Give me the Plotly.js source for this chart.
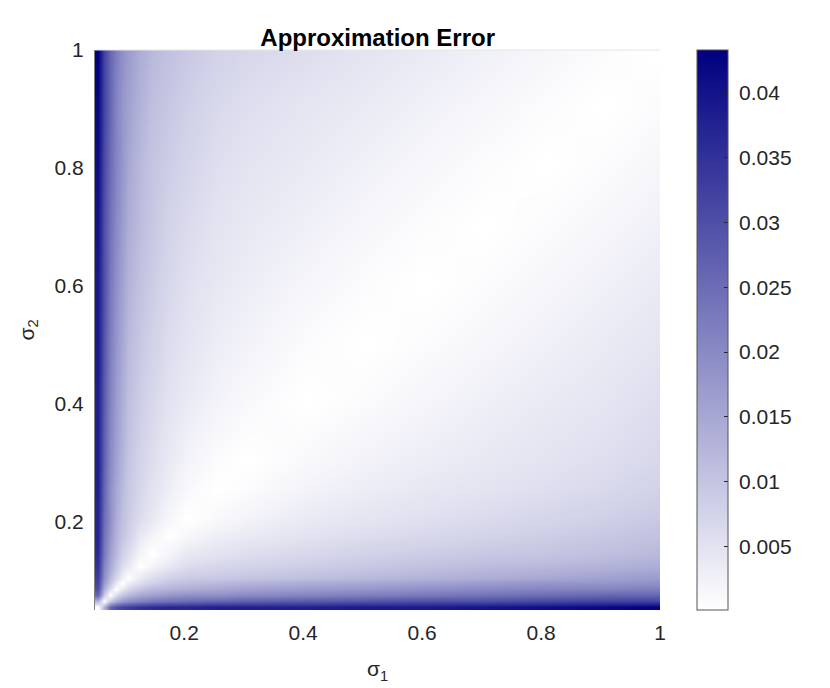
<!DOCTYPE html>
<html>
<head>
<meta charset="utf-8">
<script src="https://cdn.plot.ly/plotly-3.0.1.min.js"></script>
<style>
  html, body { margin: 0; padding: 0; background: #ffffff; }
  #chart { width: 830px; height: 688px; }
</style>
</head>
<body>
<div id="chart"></div>
<script>
const sigma1 = [0.055, 0.065, 0.075, 0.085, 0.095, 0.105, 0.125, 0.145, 0.175, 0.205,
                0.255, 0.305, 0.405, 0.505, 0.605, 0.705, 0.805, 0.905, 0.995];
const sigma2 = [0.055, 0.065, 0.075, 0.085, 0.095, 0.105, 0.125, 0.145, 0.175, 0.205,
                0.255, 0.305, 0.405, 0.505, 0.605, 0.705, 0.805, 0.905, 0.995];

// Approximation error, one row per sigma2 sample (bottom to top)
const errorGrid = [
  [0, 0.013, 0.026, 0.030, 0.032, 0.033, 0.035, 0.036, 0.037, 0.037, 0.038, 0.038, 0.038, 0.039, 0.039, 0.040, 0.041, 0.042, 0.043],
  [0.013, 0, 0.009, 0.014, 0.017, 0.019, 0.021, 0.023, 0.024, 0.025, 0.026, 0.027, 0.028, 0.029, 0.030, 0.030, 0.031, 0.032, 0.032],
  [0.026, 0.009, 0, 0.006, 0.010, 0.012, 0.015, 0.016, 0.018, 0.019, 0.019, 0.020, 0.021, 0.022, 0.023, 0.024, 0.025, 0.026, 0.026],
  [0.030, 0.014, 0.006, 0, 0.004, 0.007, 0.010, 0.012, 0.013, 0.014, 0.015, 0.016, 0.017, 0.018, 0.019, 0.020, 0.021, 0.021, 0.022],
  [0.032, 0.017, 0.010, 0.004, 0, 0.003, 0.006, 0.008, 0.010, 0.011, 0.012, 0.013, 0.014, 0.015, 0.016, 0.017, 0.018, 0.018, 0.019],
  [0.033, 0.019, 0.012, 0.007, 0.003, 0, 0.004, 0.006, 0.008, 0.009, 0.0095, 0.010, 0.011, 0.012, 0.013, 0.014, 0.015, 0.016, 0.017],
  [0.035, 0.021, 0.015, 0.010, 0.006, 0.004, 0, 0.002, 0.004, 0.006, 0.007, 0.0075, 0.0085, 0.0095, 0.0105, 0.0115, 0.012, 0.013, 0.014],
  [0.036, 0.023, 0.016, 0.012, 0.008, 0.006, 0.002, 0, 0.002, 0.004, 0.005, 0.0058, 0.0068, 0.0078, 0.0087, 0.0095, 0.010, 0.011, 0.012],
  [0.037, 0.024, 0.018, 0.013, 0.010, 0.008, 0.004, 0.002, 0, 0.0015, 0.003, 0.0038, 0.005, 0.006, 0.0068, 0.0076, 0.0085, 0.0095, 0.0105],
  [0.037, 0.025, 0.019, 0.014, 0.011, 0.009, 0.006, 0.004, 0.0015, 0, 0.0012, 0.0022, 0.0037, 0.0047, 0.0055, 0.0063, 0.0072, 0.0082, 0.0093],
  [0.038, 0.026, 0.019, 0.015, 0.012, 0.0095, 0.007, 0.005, 0.003, 0.0012, 0, 0.0007, 0.0022, 0.0032, 0.0041, 0.0049, 0.0057, 0.0066, 0.0078],
  [0.038, 0.027, 0.020, 0.016, 0.013, 0.010, 0.0075, 0.0058, 0.0038, 0.0022, 0.0007, 0, 0.0012, 0.0023, 0.0032, 0.004, 0.0048, 0.0057, 0.0068],
  [0.038, 0.028, 0.021, 0.017, 0.014, 0.011, 0.0085, 0.0068, 0.005, 0.0037, 0.0022, 0.0012, 0, 0.0008, 0.0018, 0.0028, 0.0037, 0.0045, 0.0058],
  [0.039, 0.029, 0.022, 0.018, 0.015, 0.012, 0.0095, 0.0078, 0.006, 0.0047, 0.0032, 0.0023, 0.0008, 0, 0.0007, 0.0016, 0.0026, 0.0036, 0.0046],
  [0.039, 0.030, 0.023, 0.019, 0.016, 0.013, 0.0105, 0.0087, 0.0068, 0.0055, 0.0041, 0.0032, 0.0018, 0.0007, 0, 0.0007, 0.0016, 0.0026, 0.0036],
  [0.040, 0.030, 0.024, 0.020, 0.017, 0.014, 0.0115, 0.0095, 0.0076, 0.0063, 0.0049, 0.004, 0.0028, 0.0016, 0.0007, 0, 0.0007, 0.0016, 0.0026],
  [0.041, 0.031, 0.025, 0.021, 0.018, 0.015, 0.012, 0.010, 0.0085, 0.0072, 0.0057, 0.0048, 0.0037, 0.0026, 0.0016, 0.0007, 0, 0.0007, 0.0016],
  [0.042, 0.032, 0.026, 0.021, 0.018, 0.016, 0.013, 0.011, 0.0095, 0.0082, 0.0066, 0.0057, 0.0045, 0.0036, 0.0026, 0.0016, 0.0007, 0, 0.0007],
  [0.043, 0.032, 0.026, 0.022, 0.019, 0.017, 0.014, 0.012, 0.0105, 0.0093, 0.0078, 0.0068, 0.0058, 0.0046, 0.0036, 0.0026, 0.0016, 0.0007, 0],
];

const axisTicks = [0.2, 0.4, 0.6, 0.8, 1];
const axisTickText = ['0.2', '0.4', '0.6', '0.8', '1'];
const cbTicks = [0.005, 0.01, 0.015, 0.02, 0.025, 0.03, 0.035, 0.04];
const cbTickText = ['0.005', '0.01', '0.015', '0.02', '0.025', '0.03', '0.035', '0.04'];

const fontFamily = 'Liberation Sans, Arial, Helvetica, sans-serif';
const textColor = '#262626';

Plotly.newPlot('chart', [
  {
    type: 'heatmap',
    x: sigma1,
    y: sigma2,
    z: errorGrid,
    zsmooth: 'best',
    zmin: 0.0001,
    zmax: 0.0433,
    colorscale: [[0, '#ffffff'], [1, '#000080']],
    colorbar: {
      thickness: 31,
      thicknessmode: 'pixels',
      len: 560,
      lenmode: 'pixels',
      x: 1.0655,
      xanchor: 'left',
      y: 1,
      yanchor: 'top',
      xpad: 0,
      ypad: 0,
      outlinewidth: 1,
      outlinecolor: '#555555',
      tickvals: cbTicks,
      // small gap between the bar and the labels, as in the original
      ticktext: cbTickText.map(t => '\u00a0' + t),
      ticks: 'inside',
      ticklen: 4,
      tickcolor: textColor,
      tickfont: { family: fontFamily, size: 21, color: textColor },
    },
    hovertemplate: 'σ1=%{x}<br>σ2=%{y}<br>error=%{z}<extra></extra>',
  },
], {
  width: 830,
  height: 688,
  title: {
    text: '<b>Approximation Error</b>',
    font: { family: fontFamily, size: 24, color: '#000000' },
    x: 0.455,
    xanchor: 'center',
    y: 0.946,
    yanchor: 'middle',
    yref: 'container',
  },
  xaxis: {
    range: [0.05, 1],
    tickvals: axisTicks,
    ticktext: axisTickText,
    ticks: '',
    ticklabelstandoff: 8,
    showgrid: false,
    zeroline: false,
    showline: false,
    tickfont: { family: fontFamily, size: 21, color: textColor },
    title: { text: 'σ<sub>1</sub>', font: { family: fontFamily, size: 21, color: textColor }, standoff: 18 },
  },
  yaxis: {
    range: [0.05, 1],
    tickvals: axisTicks,
    ticktext: axisTickText,
    ticks: '',
    ticklabelstandoff: 6,
    showgrid: false,
    zeroline: false,
    showline: true,
    linecolor: '#808080',
    linewidth: 1,
    tickfont: { family: fontFamily, size: 21, color: textColor },
    title: { text: 'σ<sub>2</sub>', font: { family: fontFamily, size: 21, color: textColor }, standoff: 14 },
  },
  shapes: [
    { type: 'line', xref: 'paper', yref: 'paper', x0: 0, x1: 1, y0: 1, y1: 1, line: { color: '#e6e6e6', width: 1 } },
  ],
  margin: { l: 95, r: 170, t: 50, b: 78 },
  paper_bgcolor: '#ffffff',
  plot_bgcolor: '#ffffff',
}, { displayModeBar: false });
</script>
</body>
</html>
